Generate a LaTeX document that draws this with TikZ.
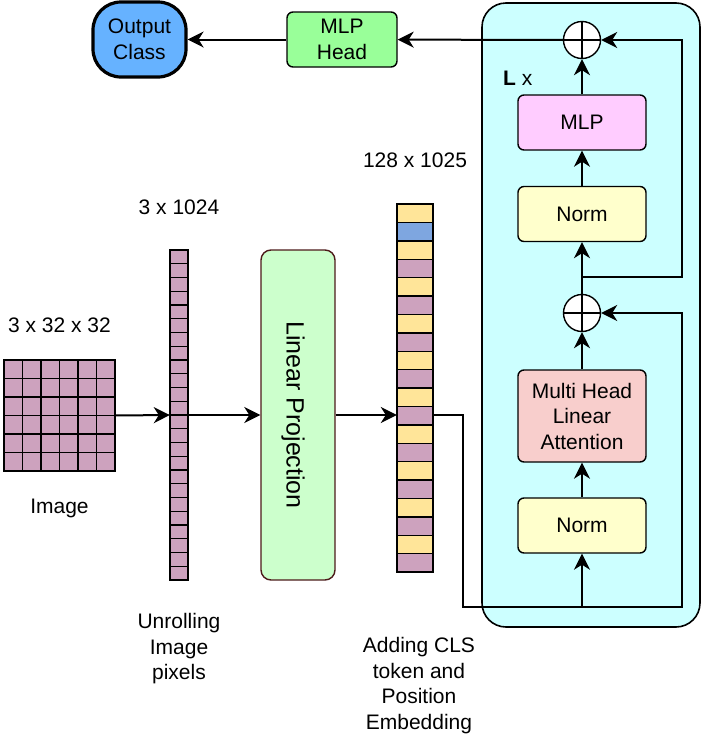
\documentclass[tikz,border=0pt]{standalone}
\usepackage{fontspec}
\setmainfont{Liberation Sans}
\usepackage{tikz}
\usetikzlibrary{arrows.meta,positioning,shapes,calc}

\definecolor{pixcol}{HTML}{CDA2BE}
\definecolor{tokyel}{HTML}{FFE599}
\definecolor{tokblue}{HTML}{7EA6E0}
\definecolor{linfill}{HTML}{CCFFCC}
\definecolor{linedge}{HTML}{4D1A1A}
\definecolor{encfill}{HTML}{CCFFFF}
\definecolor{mlpfill}{HTML}{FFCCFF}
\definecolor{normfill}{HTML}{FFFFCC}
\definecolor{attnfill}{HTML}{F8CECC}
\definecolor{headfill}{HTML}{99FF99}
\definecolor{outfill}{HTML}{66B2FF}

\begin{document}
\begin{tikzpicture}[
    x=1pt, y=-1pt,
    node distance=30pt,
    font=\fontsize{21}{25.5}\selectfont,
    box/.style={draw, rounded corners=6pt, line width=1.4pt, minimum width=128pt, minimum height=55pt, align=center, inner sep=2pt},
    lbl/.style={inner sep=0pt, align=center},
    conn/.style={line width=2pt},
    arr/.style={conn, -{Stealth[length=16pt, width=16pt, inset=5pt]}},
    cell/.style={draw, line width=1.4pt},
    addop/.style={draw, circle, fill=white, minimum size=37pt, inner sep=0pt, line width=1.4pt},
]
\useasboundingbox (0,0) rectangle (704,734);

% Transformer encoder block
\node[draw, fill=encfill, rounded corners=24pt, line width=1.6pt, minimum width=218pt, minimum height=624pt] (enc) at (591,315) {};
\node[lbl, anchor=west] (lx) at (503,78.5) {\textbf{L} x};

% Image grid
\foreach \i in {0,...,5}
  \foreach \j in {0,...,5}
    \draw[cell, fill=pixcol] (4+\i*18.5, 360+\j*18.5) rectangle ++(18.5,18.5);
\node[minimum size=111pt, inner sep=0pt] (img) at (59.5,415.5) {};
\node[lbl, above=27pt of img] (imgdim) {3 x 32 x 32};
\node[lbl, below=28pt of img] (imglbl) {Image};

% Unrolled pixels
\foreach \k in {0,...,23}
  \draw[cell, fill=pixcol] (170, 250+\k*13.75) rectangle ++(18,13.75);
\node[minimum width=18pt, minimum height=330pt, inner sep=0pt] (pix) at (179,415) {};
\node[lbl, above=35pt of pix] (pixdim) {3 x 1024};
\node[lbl, below=33pt of pix] (pixlbl) {Unrolling\\Image\\pixels};

% Linear projection
\node[box, draw=linedge, fill=linfill, minimum width=74pt, minimum height=330pt, rounded corners=10pt,
      label={[xshift=-5pt, rotate=-90, font=\fontsize{25}{30}\selectfont]center:Linear Projection}] (lp) at (298,415) {};

% Tokens with CLS and position embedding
\foreach \k in {0,...,19}{
  \ifodd\k \def\c{pixcol}\else\def\c{tokyel}\fi
  \draw[cell, fill=\c] (397, 204+\k*18.4) rectangle ++(36,18.4);
}
\draw[cell, fill=tokblue] (397, 222.4) rectangle ++(36,18.4);
\node[minimum width=36pt, minimum height=368pt, inner sep=0pt] (tok) at (415,388) {};
\node[lbl, above=36pt of tok] (tokdim) {128 x 1025};
\node[lbl, below=65pt of tok, xshift=4pt] (toklbl) {Adding CLS\\token and\\Position\\Embedding};

% Encoder layers
\node[box, fill=normfill] (norm1) at (582,525.5) {Norm};
\node[box, fill=attnfill, minimum height=92pt] (mhla) at (582,416) {Multi Head\\Linear\\Attention};
\node[addop] (add1) at (582,313) {};
\node[box, fill=normfill] (norm2) at (582,214) {Norm};
\node[box, fill=mlpfill] (mlp) at (582,122.5) {MLP};
\node[addop] (add2) at (582,40) {};
\draw[line width=1.4pt] (add1.north) -- (add1.south) (add1.west) -- (add1.east);
\draw[line width=1.4pt] (add2.north) -- (add2.south) (add2.west) -- (add2.east);

% Head and output
\node[box, fill=headfill, minimum width=110pt] (head) at (342,39.5) {MLP\\Head};
\node[box, fill=outfill, minimum width=93pt, minimum height=75pt, rounded corners=28pt, line width=3.2pt] (out) at (139.5,39.5) {Output\\Class};

% Arrows
\draw[arr] (img.east) -- (pix.west);
\draw[arr] (pix.east) -- (lp.west);
\draw[arr] (lp.east) -- (lp.east -| tok.west);
\coordinate (split1) at (582,607);
\coordinate (split2) at (582,277);
\draw[conn] (lp.east -| tok.east) -- ++(30,0) |- (split1);
\draw[arr] (split1) -- (norm1.south);
\draw[arr] (split1) -- ++(100,0) |- (add1.east);
\draw[arr] (norm1) -- (mhla);
\draw[arr] (mhla) -- (add1);
\draw[arr] (add1) -- (norm2);
\draw[arr] (split2) -- ++(100,0) |- (add2.east);
\draw[arr] (norm2) -- (mlp);
\draw[arr] (mlp) -- (add2);
\draw[arr] (add2) -- (head);
\draw[arr] (head) -- (out);

\end{tikzpicture}
\end{document}
